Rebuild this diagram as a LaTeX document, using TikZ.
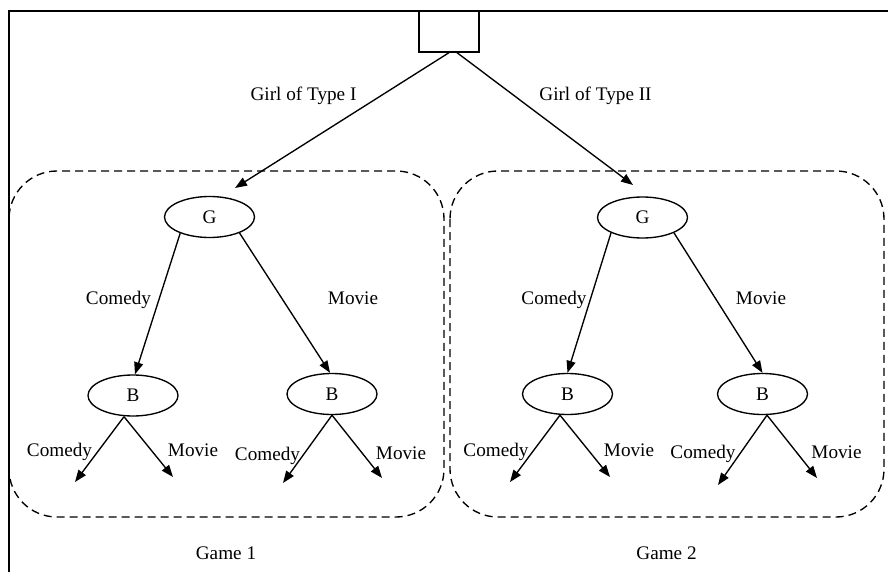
\documentclass[tikz,border=0pt]{standalone}
\usepackage{fontspec}
\setmainfont{Liberation Serif}
\usetikzlibrary{arrows.meta,shapes.geometric}
\begin{document}
\begin{tikzpicture}[x=1pt,y=-1pt,
  line width=1.35pt,
  every node/.style={font=\fontsize{19.2}{22}\selectfont},
  arr/.style={-{Triangle[length=12pt,width=9pt]}},
  player/.style={draw,ellipse,minimum width=90pt,minimum height=41pt,inner sep=0pt},
  gamebox/.style={draw,dash pattern=on 8pt off 5pt,rounded corners=48pt},
  lbl/.style={anchor=base,inner sep=0pt}
]
\useasboundingbox (0,0) rectangle (888,572);
% frame
\draw (888,11) -- (9,11) -- (9,572);
% game boxes
\draw[gamebox] (9,171) rectangle (444,517);
\draw[gamebox] (450,171) rectangle (884,517);
% nodes
\node[draw,rectangle,minimum width=60pt,minimum height=41pt,inner sep=0pt] (top) at (449,31.5) {};
\node[player] (g1) at (209.5,217) {G};
\node[player] (g2) at (642.5,217.5) {G};
\node[player] (b1) at (133,395.5) {B};
\node[player] (b2) at (332,394) {B};
\node[player] (b3) at (567.5,394) {B};
\node[player] (b4) at (762.5,394) {B};
% free ends
\coordinate (t1) at (235,188);
\coordinate (t2) at (633,185);
\coordinate (l1a) at (75,482);
\coordinate (l1b) at (173,477);
\coordinate (l2a) at (283,483);
\coordinate (l2b) at (382,478);
\coordinate (l3a) at (510,482);
\coordinate (l3b) at (610,477);
\coordinate (l4a) at (718,485);
\coordinate (l4b) at (817,478);
% connectors
\draw[arr] (top.south) -- (t1);
\draw[arr] ([xshift=8pt]top.south) -- (t2);
\draw[arr] (g1.209) -- ([xshift=2pt]b1.north);
\draw[arr] (g1.332) -- ([xshift=-2pt]b2.north);
\draw[arr] (g2.206) -- (b3.north);
\draw[arr] (g2.334.5) -- (b4.north);
\draw[arr] ([xshift=-9pt]b1.south) -- (l1a);
\draw[arr] ([xshift=-9pt]b1.south) -- (l1b);
\draw[arr] (b2.south) -- (l2a);
\draw[arr] (b2.south) -- (l2b);
\draw[arr] ([xshift=-7.5pt]b3.south) -- (l3a);
\draw[arr] ([xshift=-7.5pt]b3.south) -- (l3b);
\draw[arr] ([xshift=4.5pt]b4.south) -- (l4a);
\draw[arr] ([xshift=4.5pt]b4.south) -- (l4b);
% labels
\node[lbl] (girl1) at (303.5,100.5) {Girl of Type I};
\node[lbl] (girl2) at (595.5,100.5) {Girl of Type II};
\node[lbl] (c1) at (118.5,304.5) {Comedy};
\node[lbl] (m1) at (353,304.5) {Movie};
\node[lbl] (c2) at (554,304.5) {Comedy};
\node[lbl] (m2) at (761,304.5) {Movie};
\node[lbl] (c11) at (59.5,456.5) {Comedy};
\node[lbl] (m11) at (193,456.5) {Movie};
\node[lbl] (c12) at (267.5,460) {Comedy};
\node[lbl] (m12) at (401,459.5) {Movie};
\node[lbl] (c21) at (496,456.5) {Comedy};
\node[lbl] (m21) at (629,456.5) {Movie};
\node[lbl] (c22) at (703,458.5) {Comedy};
\node[lbl] (m22) at (836.5,458.5) {Movie};
\node[lbl] (game1) at (226,559) {Game 1};
\node[lbl] (game2) at (666.5,559) {Game 2};
\end{tikzpicture}
\end{document}
